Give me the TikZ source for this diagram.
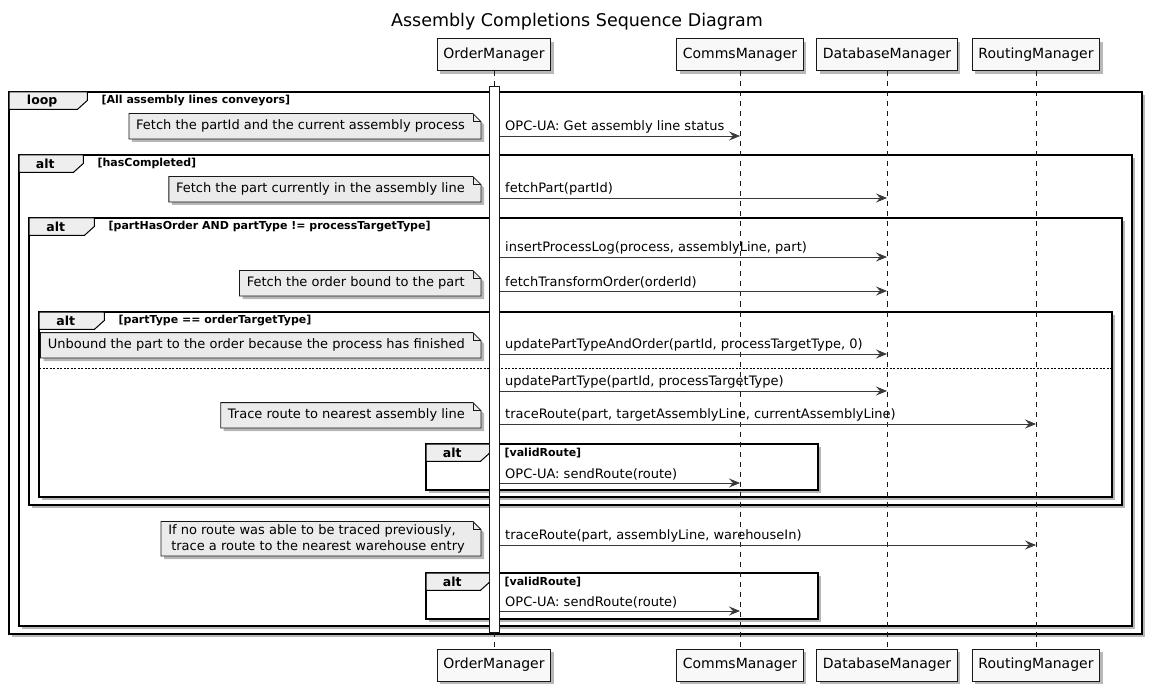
\documentclass[tikz,border=0pt]{standalone}
\usepackage{fontspec}
\setmainfont{DejaVu Sans}
\usetikzlibrary{arrows.meta,shadows}
\definecolor{umlline}{HTML}{181818}
\definecolor{msgline}{HTML}{383838}
\definecolor{boxfill}{HTML}{F8F8F8}
\definecolor{notefill}{HTML}{EBEBEB}
\definecolor{tabfill}{HTML}{EEEEEE}
\pgfdeclarelayer{back}
\pgfsetlayers{back,main}

\begin{document}
\begin{tikzpicture}[x=1pt, y=-1pt, font=\fontsize{13}{15.5}\selectfont]
    \tikzset{ umlshadow/.style={drop shadow={shadow xshift=3pt, shadow yshift=-3pt, opacity=.35, fill=black!80}},
      participant/.style={draw=umlline, line width=1pt, fill=boxfill, umlshadow, inner xsep=6pt, minimum height=32pt, font=\fontsize{14}{16}\selectfont},
      lifeline/.style={draw=umlline, line width=.8pt, dash pattern=on 5pt off 5pt},
      actbar/.style={draw=umlline, fill=white, line width=1pt, minimum width=10pt, inner sep=0pt},
      frame/.style={draw=black, line width=1.5pt, fill=white, umlshadow},
      tabtext/.style={anchor=north west, minimum height=17pt, inner sep=0pt, font=\fontsize{12.5}{14}\selectfont\bfseries},
      tabbody/.style={draw=black, line width=1pt, fill=tabfill},
      guard/.style={anchor=west, inner sep=0pt, font=\fontsize{11}{13}\selectfont\bfseries},
      notetext/.style={anchor=south east, align=left, minimum height=25pt, inner xsep=7pt, inner ysep=3pt},
      notebody/.style={draw=umlline, line width=.8pt, fill=notefill, umlshadow},
      fold/.style={draw=umlline, line width=.8pt},
      msglabel/.style={anchor=south west, inner xsep=0pt, inner ysep=3pt},
      msg/.style={draw=msgline, line width=.8pt, -{Stealth[length=11pt, width=9pt, inset=4pt]}} }

    \useasboundingbox (0,0) rectangle (1155,692);
    \node[font=\fontsize{17.5}{20}\selectfont] (title) at (577,22) {Assembly Completions Sequence Diagram};

    % frames
    \foreach \n/\xa/\ya/\xb/\yb/\k/\w/\g in {
        loop/9/92/1142/634/loop/66/{All assembly lines conveyors},
        altA/19/155/1132/626/alt/52/{hasCompleted},
        altB/29/218/1122/505/alt/53/{partHasOrder AND partType != processTargetType},
        altC/39/312/1112/497/alt/53/{partType == orderTargetType},
        altD/426/444/818/490/alt/52/{validRoute},
        altE/426/573/818/619/alt/52/{validRoute}} {
      \node[tabtext, minimum width=\w pt] (\n-tab) at (\xa,\ya) {\k};
      \node[guard] (\n-guard) at ([xshift=26pt]\n-tab.east) {[\g]};
      \begin{pgfonlayer}{back}
      \draw[frame] (\xa,\ya) rectangle (\xb,\yb);
      \draw[tabbody] (\n-tab.north west) -- ([xshift=12pt]\n-tab.north east) -- ([xshift=12pt, yshift=9pt]\n-tab.south east)
        -- ([xshift=2pt]\n-tab.south east) -- (\n-tab.south west) -- cycle;
      \end{pgfonlayer}
    }
    \draw[line width=.6pt, dash pattern=on 2pt off 1.5pt] (39,368) -- (1112,368);

    % participants
    \foreach \n/\x/\t in {om/494/OrderManager, cm/740/CommsManager, db/887/DatabaseManager, rm/1036/RoutingManager} {
      \node[participant] (\n) at (\x,55) {\t};
      \node[participant] (\n-b) at (\x,665) {\t};
      \draw[lifeline] (\n) -- (\n-b);
    }
    \node[actbar, minimum height=545pt] (act) at (494,359.5) {};

    % notes
    \foreach \i/\y/\t in {
        1/139/{Fetch the partId and the current assembly process},
        2/202/{Fetch the part currently in the assembly line},
        3/296/{Fetch the order bound to the part},
        4/358/{Unbound the part to the order because the process has finished},
        5/428/{Trace route to nearest assembly line},
        6/556/{If no route was able to be traced previously,\\\hspace*{3pt}trace a route to the nearest warehouse entry}} {
      \node[notetext] (note\i) at (472,\y) {\t};
      \begin{pgfonlayer}{back}
      \draw[notebody] (note\i.north west) -- ([xshift=1pt]note\i.north east) -- ([xshift=9pt, yshift=-8pt]note\i.north east)
        -- ([xshift=9pt]note\i.south east) -- (note\i.south west) -- cycle;
      \draw[fold] ([xshift=1pt]note\i.north east) -- ([xshift=1pt, yshift=-8pt]note\i.north east) -- ([xshift=9pt, yshift=-8pt]note\i.north east);
      \end{pgfonlayer}
    }

    % messages
    \foreach \i/\y/\d/\t in {
        1/136/cm/{OPC-UA: Get assembly line status},
        2/198/db/{fetchPart(partId)},
        3/257/db/{insertProcessLog(process, assemblyLine, part)},
        4/291/db/{fetchTransformOrder(orderId)},
        5/354/db/{updatePartTypeAndOrder(partId, processTargetType, 0)},
        6/391/db/{updatePartType(partId, processTargetType)},
        7/424/rm/{traceRoute(part, targetAssemblyLine, currentAssemblyLine)},
        8/483/cm/{OPC-UA: sendRoute(route)},
        9/545/rm/{traceRoute(part, assemblyLine, warehouseIn)},
        10/611/cm/{OPC-UA: sendRoute(route)}} {
      \node[msglabel] (msg\i) at (505,\y) {\t};
      \draw[msg] (act.east |- msg\i.south) -- (\d |- msg\i.south);
    }
\end{tikzpicture}
\end{document}
